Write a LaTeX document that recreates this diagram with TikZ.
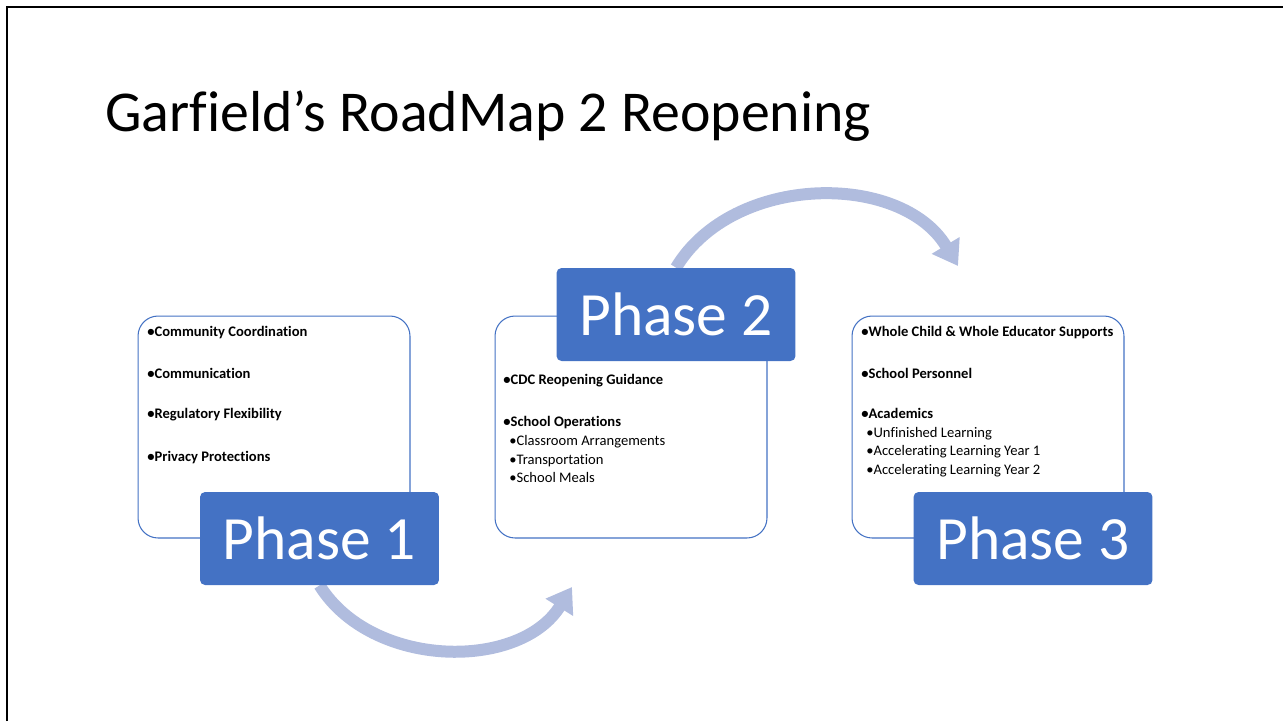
\documentclass[tikz,border=0pt]{standalone}
\usepackage{fontspec}
\setmainfont{Carlito}[Ligatures=NoCommon]
\usepackage{tikz}
\usetikzlibrary{arrows.meta,backgrounds}
\definecolor{phaseblue}{HTML}{4472C4}
\definecolor{arcblue}{RGB}{176,188,222}
\tikzset{
  listbox/.style={draw=phaseblue, line width=0.6pt, fill=white, rounded corners=0.4cm,
    minimum width=5.44cm, minimum height=4.44cm},
  phasebox/.style={fill=phaseblue, text=white, rounded corners=0.1cm,
    minimum width=4.78cm, minimum height=1.86cm, font=\fontsize{35}{40}\selectfont},
  item/.style={anchor=base west, inner sep=0pt, font=\fontsize{8.3}{10}\selectfont},
  flow/.style={arcblue, line width=0.24cm, -{Triangle[length=0.48cm,width=0.62cm]}}
}

\begin{document}
\begin{tikzpicture}[x=0.02cm, y=-0.02cm]
\useasboundingbox (0,0) rectangle (1283,721);
% slide frame
\draw[line width=0.05cm] (7,721) -- (7,7) -- (1283,7);

\node[anchor=base west, inner sep=0pt, font=\fontsize{32.9}{40}\selectfont] (title) at (105,131) {Garfield’s RoadMap 2 Reopening};

% white boxes
\node[listbox] (b1) at (274,427) {};
\node[listbox] (b2) at (631,427) {};
\node[listbox] (b3) at (988,427) {};

% phase labels
\node[phasebox] (p1) at (319.5,538.5) {Phase 1};
\node[phasebox] (p2) at (676,314.5) {Phase 2};
\node[phasebox] (p3) at (1033,538.5) {Phase 3};

% phase 1 list
\foreach \txt/\yy [count=\i] in {Community Coordination/336, Communication/378,
  Regulatory Flexibility/418, Privacy Protections/461}
{
\node[item] (b1i\i) at (147,\yy) {\textbf{\textbullet\txt}};
}

% phase 2 list
\node[item] (b2i1) at (503,384) {\textbf{\textbullet CDC Reopening Guidance}};
\node[item] (b2i2) at (503,426) {\textbf{\textbullet School Operations}};
\foreach \txt/\yy [count=\i] in {Classroom Arrangements/445, Transportation/464, School Meals/482}
{
\node[item] (b2s\i) at (509,\yy) {\textbullet\txt};
}

% phase 3 list
\foreach \txt/\yy [count=\i] in {Whole Child \& Whole Educator Supports/336, School Personnel/378, Academics/418}
{
\node[item] (b3i\i) at (861,\yy) {\textbf{\textbullet\txt}};
}
\foreach \txt/\yy [count=\i] in {Unfinished Learning/437, Accelerating Learning Year 1/455,
  Accelerating Learning Year 2/474}
{
\node[item] (b3s\i) at (866,\yy) {\textbullet\txt};
}

\coordinate (a1e) at (572,587);
\coordinate (a2e) at (958,266);
  \begin{pgfonlayer}{background}
    \draw[flow] (p1.south) to[out=-58, in=-122] (a1e);
    \draw[flow] (p2.north) to[out=59, in=121] (a2e);
  \end{pgfonlayer}
\end{tikzpicture}
\end{document}
